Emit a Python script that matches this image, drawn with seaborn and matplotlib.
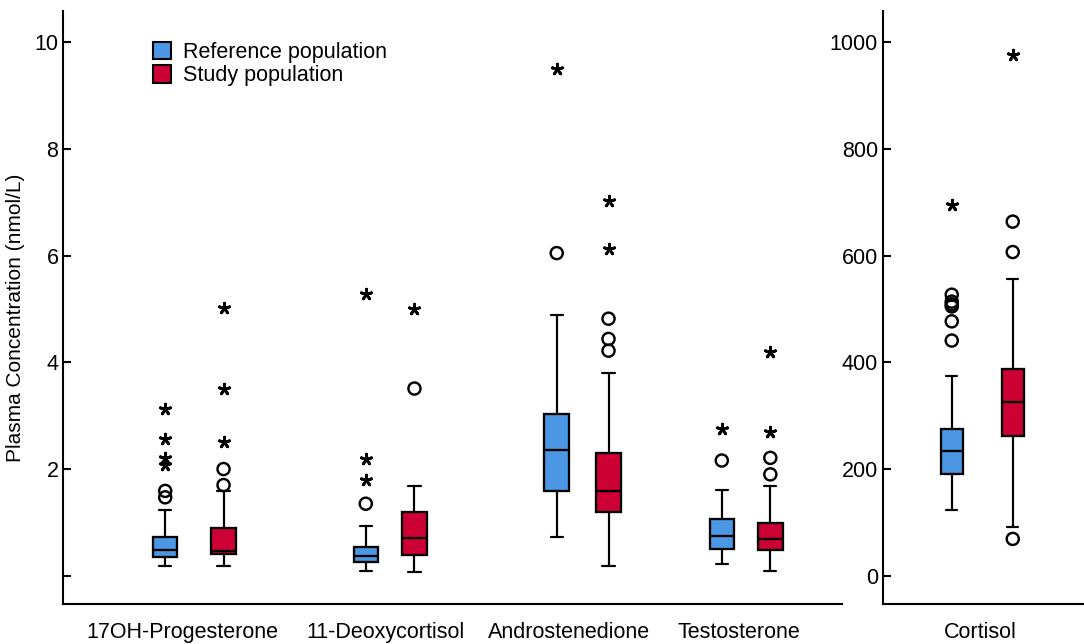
import matplotlib
matplotlib.use("Agg")
import matplotlib.pyplot as plt
from matplotlib.patches import Patch
import pandas as pd
import seaborn as sns

# ---------------------------------------------------------------- data
analytes = ["17OH-Progesterone", "11-Deoxycortisol", "Androstenedione", "Testosterone"]
populations = ["Reference population", "Study population"]

# Box summaries in nmol/L: lower whisker, Q1, median, Q3, upper whisker
ref_whislo = [0.19, 0.09, 0.72, 0.22]
ref_q1 = [0.36, 0.25, 1.59, 0.50]
ref_med = [0.49, 0.37, 2.36, 0.74]
ref_q3 = [0.73, 0.53, 3.04, 1.06]
ref_whishi = [1.23, 0.94, 4.89, 1.61]
ref_outliers = [[1.47, 1.59], [1.35], [6.05], [2.16]]
ref_extremes = [[2.07, 2.21, 2.57, 3.12], [1.80, 2.19, 5.28], [9.50], [2.75]]

study_whislo = [0.19, 0.07, 0.19, 0.09]
study_q1 = [0.40, 0.39, 1.19, 0.49]
study_med = [0.47, 0.70, 1.59, 0.69]
study_q3 = [0.90, 1.19, 2.30, 0.99]
study_whishi = [1.59, 1.69, 3.81, 1.69]
study_outliers = [[1.70, 2.00], [3.51], [4.22, 4.44, 4.82], [1.90, 2.21]]
study_extremes = [[2.51, 3.51, 5.02], [5.01], [6.12, 7.03], [2.69, 4.20]]

cortisol_label = "Cortisol"
cort_whislo = [124, 91]
cort_q1 = [191, 262]
cort_med = [234, 325]
cort_q3 = [276, 388]
cort_whishi = [374, 557]
cort_outliers = [[441, 477, 505, 509, 514, 527], [69, 607, 664]]
cort_extremes = [[696], [976]]

left_ticks = [0, 2, 4, 6, 8, 10]
left_ticklabels = ["", "2", "4", "6", "8", "10"]
right_ticks = [0, 200, 400, 600, 800, 1000]
ylabel = "Plasma Concentration (nmol/L)"

# ---------------------------------------------------------------- layout / style
BLUE = "#4C97E3"
RED = "#CC0033"
FS = 15.5
LW = 1.65

# horizontal placement (axes-fraction units)
left_ref_pos = [0.1308, 0.3883, 0.6334, 0.8453]
left_study_pos = [0.2057, 0.4508, 0.6999, 0.9076]
left_label_pos = [0.1530, 0.4130, 0.6489, 0.8671]
left_box_w = 0.0315
right_ref_pos = [0.343]
right_study_pos = [0.646]
right_label_pos = [0.486]
right_box_w = 0.107

sns.set_theme(style="ticks")
plt.rcParams["font.family"] = ["Liberation Sans", "DejaVu Sans"]
plt.rcParams["axes.linewidth"] = 1.5
plt.rcParams["text.color"] = "black"
plt.rcParams["axes.labelcolor"] = "black"

W, H = 1084, 644
fig = plt.figure(figsize=(W / 100, H / 100), dpi=100)
fig.patch.set_facecolor("white")
bottom_px, top_px = 603.7, 11.0
ax1 = fig.add_axes([63.3 / W, 1 - bottom_px / H, 779 / W, (bottom_px - top_px) / H])
ax2 = fig.add_axes([882.7 / W, 1 - bottom_px / H, (W - 882.7) / W, (bottom_px - top_px) / H])


def draw_boxes(ax, positions, width, whislo, q1, med, q3, whishi, color):
    stats = [
        dict(whislo=a, q1=b, med=c, q3=d, whishi=e, fliers=[])
        for a, b, c, d, e in zip(whislo, q1, med, q3, whishi)
    ]
    ax.bxp(
        stats,
        positions=positions,
        widths=width,
        capwidths=width * 0.5,
        patch_artist=True,
        showfliers=False,
        boxprops=dict(facecolor=color, edgecolor="black", linewidth=LW),
        medianprops=dict(color="black", linewidth=LW, solid_capstyle="butt"),
        whiskerprops=dict(color="black", linewidth=LW * 0.95),
        capprops=dict(color="black", linewidth=LW * 0.95),
        manage_ticks=False,
        zorder=3,
    )


def draw_points(ax, positions, outliers, extremes):
    out = pd.DataFrame(
        [(p, v) for p, vals in zip(positions, outliers) for v in vals], columns=["x", "y"]
    )
    ext = pd.DataFrame(
        [(p, v) for p, vals in zip(positions, extremes) for v in vals], columns=["x", "y"]
    )
    if len(out):
        sns.scatterplot(data=out, x="x", y="y", marker="o", s=76, color="black",
                        linewidth=LW * 1.05, ax=ax, legend=False, zorder=4)
        ax.collections[-1].set_facecolor("none")
        ax.collections[-1].set_edgecolor("black")
    if len(ext):
        sns.scatterplot(data=ext, x="x", y="y", marker=(5, 2, 0), s=60, color="black",
                        edgecolor="black", linewidth=LW * 1.2, ax=ax, legend=False, zorder=4)


# left panel
draw_boxes(ax1, left_ref_pos, left_box_w, ref_whislo, ref_q1, ref_med, ref_q3, ref_whishi, BLUE)
draw_boxes(ax1, left_study_pos, left_box_w, study_whislo, study_q1, study_med, study_q3,
           study_whishi, RED)
draw_points(ax1, left_ref_pos, ref_outliers, ref_extremes)
draw_points(ax1, left_study_pos, study_outliers, study_extremes)

# right panel
draw_boxes(ax2, right_ref_pos + right_study_pos, right_box_w, cort_whislo, cort_q1, cort_med,
           cort_q3, cort_whishi, BLUE)
ax2.patches[-1].set_facecolor(RED)
draw_points(ax2, right_ref_pos + right_study_pos, cort_outliers, cort_extremes)

# axes cosmetics
ax1.set_xlim(0, 1)
ax2.set_xlim(0, 1)
ax1.set_ylim(-0.525, 10.59)
ax2.set_ylim(-52.5, 1059)

ax1.set_yticks(left_ticks)
ax1.set_yticklabels(left_ticklabels)
ax2.set_yticks(right_ticks)
ax2.set_yticklabels([str(t) for t in right_ticks])

ax1.set_xticks(left_label_pos)
ax1.set_xticklabels(analytes)
ax2.set_xticks(right_label_pos)
ax2.set_xticklabels([cortisol_label])

for ax in (ax1, ax2):
    sns.despine(ax=ax, top=True, right=True)
    ax.set_facecolor("white")
    ax.set_xlabel("")
    ax.set_ylabel("")
    ax.tick_params(axis="y", direction="in", length=5.5, width=1.5, pad=3.5,
                   labelsize=FS, colors="black")
    ax.tick_params(axis="x", length=0, pad=13, labelsize=FS, colors="black")
    for sp in ax.spines.values():
        sp.set_color("black")
        sp.set_linewidth(1.5)

ax1.set_ylabel(ylabel, fontsize=FS * 0.97, color="black")
ax1.yaxis.set_label_coords(-0.049, 0.482)

handles = [Patch(facecolor=BLUE, edgecolor="black", linewidth=1.5),
           Patch(facecolor=RED, edgecolor="black", linewidth=1.5)]
leg = ax1.legend(handles, populations, loc="upper left", bbox_to_anchor=(0.115, 0.948),
                 frameon=False, fontsize=FS, handlelength=0.85, handleheight=0.85,
                 handletextpad=0.55, labelspacing=0.12, borderpad=0, borderaxespad=0)
for t in leg.get_texts():
    t.set_color("black")

fig.savefig("out.png", dpi=100, facecolor="white")
